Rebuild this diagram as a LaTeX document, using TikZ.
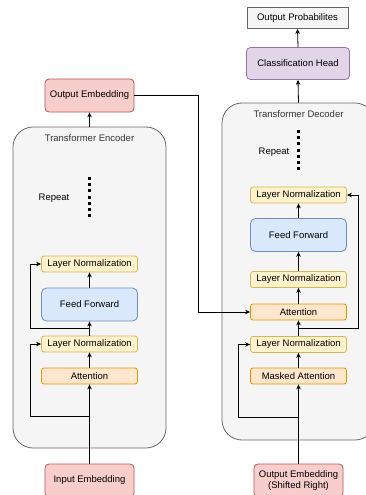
\documentclass[tikz,border=0pt]{standalone}
\usepackage{fontspec}
\setmainfont{Liberation Sans}
\usetikzlibrary{arrows.meta}

\definecolor{redfill}{HTML}{F8CECC}
\definecolor{redline}{HTML}{B85450}
\definecolor{yelfill}{HTML}{FFF2CC}
\definecolor{yelline}{HTML}{D6B656}
\definecolor{orafill}{HTML}{FFE6CC}
\definecolor{oraline}{HTML}{D79B00}
\definecolor{blufill}{HTML}{DAE8FC}
\definecolor{bluline}{HTML}{6C8EBF}
\definecolor{purfill}{HTML}{E1D5E7}
\definecolor{purline}{HTML}{9673A6}
\definecolor{grayfill}{HTML}{F5F5F5}
\definecolor{grayline}{HTML}{666666}
\definecolor{titletext}{HTML}{333333}

\tikzset{
  base/.style={draw, line width=0.8pt, inner sep=0pt, align=center,
    font=\fontsize{9.5}{11}\selectfont, text=black},
  embbox/.style={base, fill=redfill, draw=redline, rounded corners=4pt,
    minimum width=89pt, minimum height=33pt},
  normbox/.style={base, fill=yelfill, draw=yelline, rounded corners=2.5pt,
    minimum width=96pt, minimum height=16pt},
  attbox/.style={base, fill=orafill, draw=oraline, rounded corners=2.5pt,
    minimum width=96pt, minimum height=16pt},
  ffbox/.style={base, fill=blufill, draw=bluline, rounded corners=5pt,
    minimum width=96pt, minimum height=33pt},
  headbox/.style={base, fill=purfill, draw=purline, rounded corners=4pt,
    minimum width=103pt, minimum height=32pt},
  probbox/.style={base, fill=grayfill, draw=grayline,
    minimum width=101pt, minimum height=21pt},
  container/.style={draw=grayline, fill=grayfill, line width=0.8pt,
    rounded corners=20pt, inner sep=0pt},
  titlelbl/.style={font=\fontsize{9.5}{11}\selectfont, text=titletext, inner sep=0pt},
  lbl/.style={font=\fontsize{9.5}{11}\selectfont, text=black, inner sep=0pt},
  conn/.style={line width=0.8pt, -{Stealth[length=5pt,width=4.5pt]}},
  plain/.style={line width=0.8pt},
  repeatdots/.style={line width=3pt, dash pattern=on 3pt off 3.2pt}
}

\begin{document}
\begin{tikzpicture}[x=1pt, y=-1pt]
  \useasboundingbox (0,0) rectangle (366,495);
  \clip (0,0) rectangle (366,495);

  % ---------------- Encoder ----------------
  \node[container, minimum width=153pt, minimum height=321pt] (encBox) at (89.5,287.5) {};
  \node[titlelbl] (encTitle) at (89.5,138) {Transformer Encoder};
  \node[lbl] (encRepeat) at (54,198) {Repeat};
  \coordinate (encDotTop) at (89.5,177);
  \coordinate (encDotBot) at (89.5,219);
  \draw[repeatdots] (encDotTop) -- (encDotBot);

  \node[embbox] (encOut) at (89.5,95.5) {Output Embedding};
  \node[normbox] (encLN2) at (89.5,264) {Layer Normalization};
  \node[ffbox] (encFF) at (89.5,304.5) {Feed Forward};
  \node[normbox] (encLN1) at (89.5,344) {Layer Normalization};
  \node[attbox] (encAtt) at (89.5,376) {Attention};
  \node[embbox] (inEmb) at (89.5,480.5) {Input Embedding};

  \coordinate (encSplit1) at (89.5,416);
  \coordinate (encSplit2) at (89.5,328);

  \draw[conn] (inEmb.north) -- (encAtt.south);
  \draw[conn] (encAtt.north) -- (encLN1.south);
  \draw[conn] (encSplit1) -- (30,416) -- (30,344) -- (encLN1.west);
  \draw[conn] (encLN1.north) -- (encFF.south);
  \draw[conn] (encSplit2) -- (30,328) -- (30,264) -- (encLN2.west);
  \draw[conn] (encFF.north) -- (encLN2.south);
  \draw[conn] (encBox.north) -- (encOut.south);

  % ---------------- Decoder ----------------
  \node[container, minimum width=153pt, minimum height=337pt] (decBox) at (298.5,271.5) {};
  \node[titlelbl] (decTitle) at (298.5,114) {Transformer Decoder};
  \node[lbl] (decRepeat) at (274,152) {Repeat};
  \coordinate (decDotTop) at (298.5,130);
  \coordinate (decDotBot) at (298.5,173);
  \draw[repeatdots] (decDotTop) -- (decDotBot);

  \node[probbox] (outProb) at (297.5,18) {Output Probabilites};
  \node[headbox] (clsHead) at (298,63.5) {Classification Head};
  \node[normbox] (decLN3) at (298.5,195) {Layer Normalization};
  \node[ffbox] (decFF) at (298.5,235) {Feed Forward};
  \node[normbox] (decLN2) at (298.5,279.5) {Layer Normalization};
  \node[attbox] (decAtt) at (298.5,312) {Attention};
  \node[normbox] (decLN1) at (298.5,344.5) {Layer Normalization};
  \node[attbox] (decMAtt) at (298.5,376) {Masked Attention};
  \node[embbox] (outEmb) at (298.5,480.5) {Output Embedding\\(Shifted Right)};

  \coordinate (decSplit1) at (298.5,417);
  \coordinate (decSplit2) at (298.5,328);

  \draw[conn] (outEmb.north) -- (decMAtt.south);
  \draw[conn] (decMAtt.north) -- (decLN1.south);
  \draw[conn] (decSplit1) -- (238,417) -- (238,344.5) -- (decLN1.west);
  \draw[conn] (decLN1.north) -- (decAtt.south);
  \draw[conn] (decSplit2) -- (358,328) -- (358,195) -- (decLN3.east);
  \draw[conn] (decAtt.north) -- (decLN2.south);
  \draw[conn] (decLN2.north) -- (decFF.south);
  \draw[conn] (decFF.north) -- (decLN3.south);
  \draw[conn] (decBox.north) -- (clsHead.south);
  \draw[conn] (clsHead.north) -- (outProb.south);

  % encoder output feeds the decoder attention
  \draw[conn] (encOut.east) -- (198,95.5) -- (198,312) -- (decAtt.west);
\end{tikzpicture}
\end{document}
